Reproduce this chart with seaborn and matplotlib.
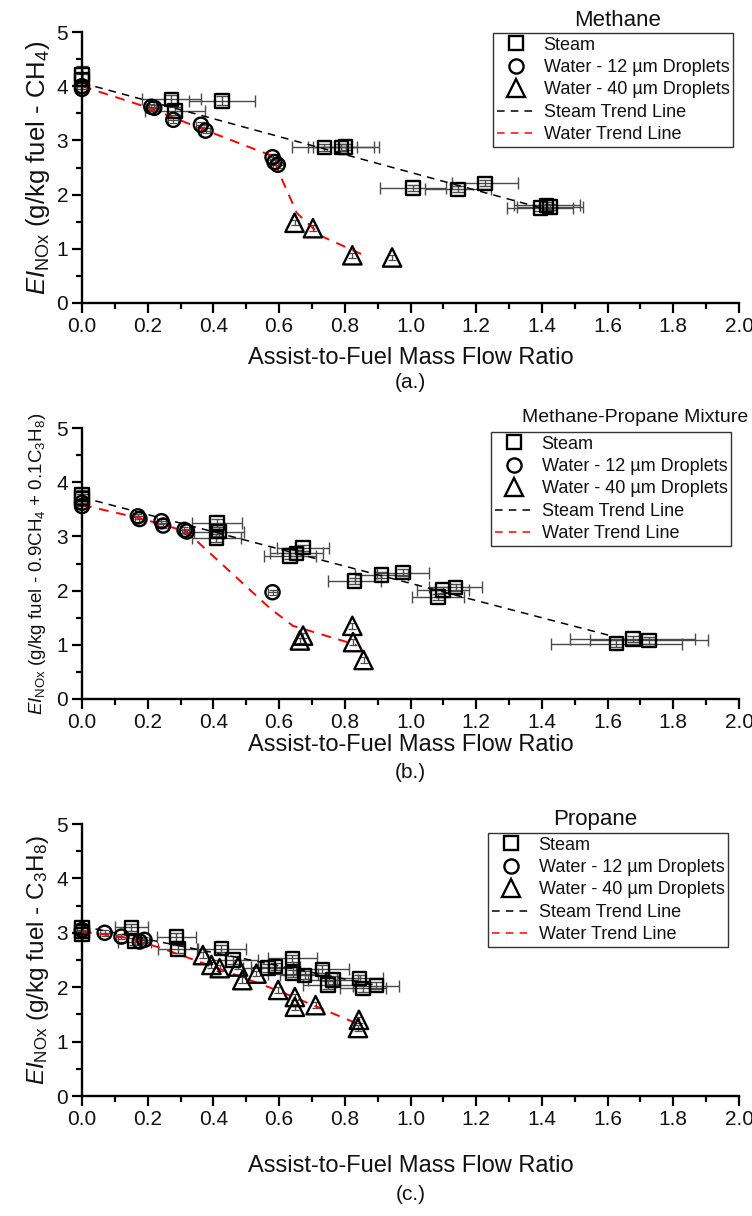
import matplotlib
matplotlib.use("Agg")
import matplotlib.pyplot as plt
from matplotlib.lines import Line2D
from matplotlib.ticker import MultipleLocator, FormatStrFormatter
import seaborn as sns

# ---------------- (a) Methane ----------------
a_steam_x = [0.0, 0.0, 0.272, 0.283, 0.426, 0.738, 0.789, 0.803, 1.008, 1.145, 1.227, 1.395, 1.415, 1.425]
a_steam_y = [4.22, 4.12, 3.76, 3.54, 3.73, 2.87, 2.87, 2.88, 2.12, 2.10, 2.21, 1.75, 1.80, 1.77]
a_steam_xerr = [0.0, 0.0, 0.09, 0.09, 0.10, 0.10, 0.10, 0.10, 0.10, 0.10, 0.10, 0.10, 0.10, 0.10]
a_steam_yerr = [0.15, 0.10, 0.08, 0.08, 0.08, 0.06, 0.06, 0.06, 0.06, 0.06, 0.06, 0.06, 0.06, 0.06]
a_w12_x = [0.0, 0.0, 0.211, 0.220, 0.278, 0.362, 0.376, 0.580, 0.586, 0.596]
a_w12_y = [4.00, 3.95, 3.62, 3.60, 3.38, 3.29, 3.18, 2.69, 2.60, 2.55]
a_w40_x = [0.647, 0.703, 0.823, 0.944]
a_w40_y = [1.48, 1.38, 0.88, 0.84]
a_steam_trend_x = [0.0, 1.40]
a_steam_trend_y = [4.06, 1.75]
a_water_trend_x = [0.0, 0.194, 0.375, 0.580, 0.600, 0.654, 0.730, 0.866]
a_water_trend_y = [4.00, 3.62, 3.19, 2.71, 2.40, 1.66, 1.23, 0.86]

# ---------------- (b) Methane-propane mixture ----------------
b_steam_x = [0.0, 0.0, 0.411, 0.417, 0.409, 0.633, 0.653, 0.673, 0.830, 0.911, 0.977, 1.084, 1.099, 1.137, 1.627, 1.677, 1.726]
b_steam_y = [3.77, 3.70, 3.25, 3.09, 2.97, 2.64, 2.69, 2.79, 2.18, 2.29, 2.33, 1.88, 2.01, 2.06, 1.02, 1.11, 1.08]
b_steam_xerr = [0.0, 0.0, 0.075, 0.075, 0.075, 0.08, 0.08, 0.08, 0.08, 0.08, 0.08, 0.08, 0.08, 0.08, 0.20, 0.19, 0.18]
b_steam_yerr = [0.08, 0.08, 0.08, 0.08, 0.08, 0.06, 0.06, 0.06, 0.06, 0.06, 0.06, 0.06, 0.06, 0.06, 0.06, 0.06, 0.06]
b_w12_x = [0.0, 0.0, 0.170, 0.175, 0.242, 0.247, 0.312, 0.319, 0.580]
b_w12_y = [3.62, 3.56, 3.37, 3.32, 3.28, 3.20, 3.12, 3.09, 1.97]
b_w40_x = [0.663, 0.673, 0.823, 0.825, 0.857]
b_w40_y = [1.08, 1.17, 1.35, 1.05, 0.72]
b_steam_trend_x = [0.0, 1.62]
b_steam_trend_y = [3.72, 1.15]
b_water_trend_x = [0.0, 0.180, 0.318, 0.571, 0.642, 0.835]
b_water_trend_y = [3.58, 3.33, 3.09, 1.68, 1.35, 1.00]

# ---------------- (c) Propane ----------------
c_steam_x = [0.0, 0.0, 0.0, 0.150, 0.160, 0.287, 0.292, 0.424, 0.460, 0.566, 0.590, 0.640, 0.642, 0.678, 0.732, 0.749, 0.764, 0.845, 0.855, 0.896]
c_steam_y = [3.10, 3.03, 2.97, 3.10, 2.84, 2.92, 2.70, 2.71, 2.50, 2.35, 2.38, 2.53, 2.25, 2.22, 2.33, 2.04, 2.13, 2.16, 1.98, 2.03]
c_steam_xerr = [0.0, 0.0, 0.0, 0.05, 0.05, 0.06, 0.06, 0.075, 0.075, 0.075, 0.075, 0.075, 0.075, 0.075, 0.08, 0.075, 0.075, 0.07, 0.07, 0.07]
c_steam_yerr = [0.07] * 20
c_w12_x = [0.0, 0.069, 0.120, 0.176, 0.190]
c_w12_y = [3.05, 3.00, 2.93, 2.84, 2.87]
c_w40_x = [0.368, 0.394, 0.419, 0.475, 0.488, 0.531, 0.597, 0.648, 0.648, 0.711, 0.843, 0.840]
c_w40_y = [2.59, 2.41, 2.35, 2.38, 2.13, 2.25, 1.95, 1.82, 1.64, 1.67, 1.40, 1.25]
c_steam_trend_x = [0.0, 0.90]
c_steam_trend_y = [3.12, 2.03]
c_water_trend_x = [0.0, 0.120, 0.236, 0.444, 0.600, 0.850]
c_water_trend_y = [3.02, 2.93, 2.73, 2.28, 1.93, 1.30]

x_ticks = [0.0, 0.2, 0.4, 0.6, 0.8, 1.0, 1.2, 1.4, 1.6, 1.8, 2.0]
y_ticks = [0, 1, 2, 3, 4, 5]

legend_labels = ["Steam", "Water - 12 \u00b5m Droplets", "Water - 40 \u00b5m Droplets",
                 "Steam Trend Line", "Water Trend Line"]
panel_titles = ["Methane", "Methane-Propane Mixture", "Propane"]
panel_tags = ["(a.)", "(b.)", "(c.)"]
y_labels = [
    r"$\mathit{EI}_{\mathrm{NOx}}$ (g/kg fuel - CH$_4$)",
    r"$\mathit{EI}_{\mathrm{NOx}}$ (g/kg fuel - 0.9CH$_4$ + 0.1C$_3$H$_8$)",
    r"$\mathit{EI}_{\mathrm{NOx}}$ (g/kg fuel - C$_3$H$_8$)",
]
x_label = "Assist-to-Fuel Mass Flow Ratio"

sns.set_theme(style="ticks")
plt.rcParams["font.family"] = ["Liberation Sans", "DejaVu Sans"]
plt.rcParams["mathtext.fontset"] = "custom"
plt.rcParams["mathtext.rm"] = "Liberation Sans"
plt.rcParams["mathtext.it"] = "Liberation Sans:italic"
plt.rcParams["mathtext.bf"] = "Liberation Sans:bold"

W, H = 752, 1216
fig = plt.figure(figsize=(W / 100, H / 100), dpi=100)
fig.patch.set_facecolor("white")

ERR = "#4a4a4a"
RED = "#ff0000"
DASH = (0, (5, 4))
MS_SQ, MS_CI, MS_TR = 9.6, 10.2, 13.2
MEW = 1.7
TXT = "#111111"


def px(x):
    return x / W


def py(y):
    return 1 - y / H


panels = [
    dict(steam=(a_steam_x, a_steam_y, a_steam_xerr, a_steam_yerr),
         w12=(a_w12_x, a_w12_y), w40=(a_w40_x, a_w40_y),
         st=(a_steam_trend_x, a_steam_trend_y), wt=(a_water_trend_x, a_water_trend_y),
         top=32, bottom=303, title_xy=(618, 20), title_fs=16, legend_xy=(493, 33),
         ylabel_fs=18.5, xlabel_y=358, tag_y=382),
    dict(steam=(b_steam_x, b_steam_y, b_steam_xerr, b_steam_yerr),
         w12=(b_w12_x, b_w12_y), w40=(b_w40_x, b_w40_y),
         st=(b_steam_trend_x, b_steam_trend_y), wt=(b_water_trend_x, b_water_trend_y),
         top=428, bottom=699, title_xy=(635, 418), title_fs=14, legend_xy=(491, 432),
         ylabel_fs=13.5, xlabel_y=745, tag_y=773),
    dict(steam=(c_steam_x, c_steam_y, c_steam_xerr, c_steam_yerr),
         w12=(c_w12_x, c_w12_y), w40=(c_w40_x, c_w40_y),
         st=(c_steam_trend_x, c_steam_trend_y), wt=(c_water_trend_x, c_water_trend_y),
         top=824, bottom=1096, title_xy=(595, 820), title_fs=16, legend_xy=(488, 833),
         ylabel_fs=17.5, xlabel_y=1166, tag_y=1195),
]

LEFT, RIGHT = 82, 739

for i, p in enumerate(panels):
    ax = fig.add_axes([px(LEFT), py(p["bottom"]), (RIGHT - LEFT) / W, (p["bottom"] - p["top"]) / H])
    ax.set_facecolor("none")
    sns.despine(ax=ax)
    for s in ("left", "bottom"):
        ax.spines[s].set_linewidth(1.7)
        ax.spines[s].set_color("black")

    sx, sy, sxe, sye = p["steam"]
    # error bars of the steam runs
    ax.errorbar(sx, sy, xerr=sxe, yerr=sye, fmt="none", ecolor=ERR,
                elinewidth=1.0, capsize=4.5, capthick=1.0, zorder=2, clip_on=False)
    # small error bars of the water runs
    ax.errorbar(p["w12"][0], p["w12"][1], xerr=0.015, yerr=0.05, fmt="none", ecolor=ERR,
                elinewidth=0.9, capsize=3, capthick=0.9, zorder=2, clip_on=False)
    ax.errorbar(p["w40"][0], p["w40"][1], yerr=0.05, fmt="none", ecolor=ERR,
                elinewidth=0.9, capsize=3, capthick=0.9, zorder=2, clip_on=False)

    # trend lines
    sns.lineplot(x=p["st"][0], y=p["st"][1], sort=False, estimator=None, color="black",
                 linewidth=1.1, linestyle=DASH, ax=ax, zorder=3)
    sns.lineplot(x=p["wt"][0], y=p["wt"][1], sort=False, estimator=None, color=RED,
                 linewidth=1.4, linestyle=DASH, ax=ax, zorder=3)

    # open markers
    sns.scatterplot(x=sx, y=sy, marker="s", s=MS_SQ ** 2, color="black", facecolor="none",
                    edgecolor="black", linewidth=MEW, ax=ax, zorder=4, clip_on=False, legend=False)
    sns.scatterplot(x=p["w12"][0], y=p["w12"][1], marker="o", s=MS_CI ** 2, color="black",
                    facecolor="none", edgecolor="black", linewidth=MEW, ax=ax, zorder=4,
                    clip_on=False, legend=False)
    sns.scatterplot(x=p["w40"][0], y=p["w40"][1], marker="^", s=MS_TR ** 2, color="black",
                    facecolor="none", edgecolor="black", linewidth=MEW, ax=ax, zorder=4,
                    clip_on=False, legend=False)

    ax.set_xlim(0, 2)
    ax.set_ylim(0, 5)
    ax.set_xticks(x_ticks)
    ax.set_yticks(y_ticks)
    ax.xaxis.set_minor_locator(MultipleLocator(0.1))
    ax.yaxis.set_minor_locator(MultipleLocator(0.5))
    ax.xaxis.set_major_formatter(FormatStrFormatter("%.1f"))
    ax.yaxis.set_major_formatter(FormatStrFormatter("%d"))
    ax.tick_params(which="major", direction="out", length=7.5, width=1.6, color="black",
                   labelsize=15, pad=2.5, labelcolor=TXT)
    ax.tick_params(which="minor", direction="out", length=4.5, width=1.6, color="black")
    ax.set_xlabel("")
    ax.set_ylabel("")

    handles = [
        Line2D([], [], ls="none", marker="s", ms=MS_SQ, mfc="none", mec="black", mew=MEW),
        Line2D([], [], ls="none", marker="o", ms=MS_CI, mfc="none", mec="black", mew=MEW),
        Line2D([], [], ls="none", marker="^", ms=MS_TR, mfc="none", mec="black", mew=MEW),
        Line2D([], [], color="black", lw=1.1, linestyle=DASH),
        Line2D([], [], color=RED, lw=1.1, linestyle=DASH),
    ]
    lx, ly = p["legend_xy"]
    leg = ax.legend(handles=handles, labels=legend_labels, loc="upper left",
                    bbox_to_anchor=(px(lx), py(ly)), bbox_transform=fig.transFigure,
                    borderaxespad=0, frameon=True, fancybox=False, framealpha=1,
                    edgecolor="#333333", fontsize=13, handlelength=2.1, handletextpad=0.5,
                    borderpad=0.2, labelspacing=0.3)
    leg.get_frame().set_linewidth(1.0)
    for t in leg.get_texts():
        t.set_color(TXT)

    tx, ty = p["title_xy"]
    fig.text(px(tx), py(ty), panel_titles[i], ha="center", va="center",
             fontsize=p["title_fs"], color=TXT)
    fig.text(px(38), py((p["top"] + p["bottom"]) / 2), y_labels[i], rotation=90,
             ha="center", va="center", fontsize=p["ylabel_fs"], color=TXT)
    fig.text(px((LEFT + RIGHT) / 2), py(p["xlabel_y"]), x_label, ha="center", va="center",
             fontsize=17, color=TXT)
    fig.text(px((LEFT + RIGHT) / 2), py(p["tag_y"]), panel_tags[i], ha="center", va="center",
             fontsize=15, color=TXT)

fig.savefig("out.png", dpi=100, facecolor="white")
